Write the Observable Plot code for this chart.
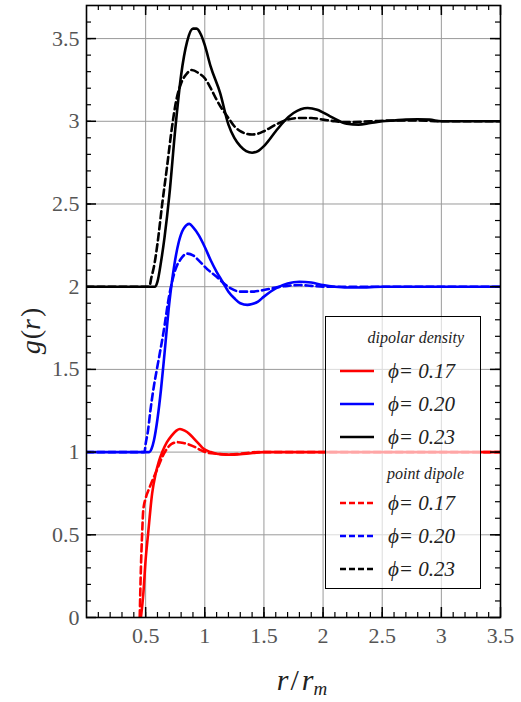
<!DOCTYPE html>
<html>
<head>
<meta charset="utf-8">
<script src="https://cdn.jsdelivr.net/npm/d3@7"></script>
<script src="https://cdn.jsdelivr.net/npm/@observablehq/plot@0.6"></script>
<style>
  body { margin: 0; background: #fff; }
  #wrap { position: relative; width: 521px; height: 702px; font-family: "Liberation Serif", "DejaVu Serif", "Times New Roman", serif; }
  .lab { position: absolute; font-style: italic; color: #222; white-space: nowrap; }
  #legend { position: absolute; left: 325px; top: 316px; width: 154px; height: 271px; border: 1px solid #000; background: rgba(255,255,255,0.65); }
  #legend .t { position: absolute; right: 16px; font-style: italic; font-size: 16px; color: #222; transform: translateY(-50%); }
  #legend .e { position: absolute; left: 62px; font-style: italic; font-size: 21px; color: #222; transform: translateY(-50%); }
  #legend svg { position: absolute; left: 14px; }
</style>
</head>
<body>
<div id="wrap"></div>
<script>
// ---- data ----
const phiLabels = ["0.17", "0.20", "0.23"];
const colors = ["#ff0000", "#0000ff", "#000000"];

// dipolar density (solid)
const xDD17 = [0.46,0.48,0.5,0.52,0.555,0.585,0.61,0.64,0.68,0.72,0.76,0.79,0.83,0.87,0.91,0.95,0.99,1.05,1.1,1.18,1.25,1.35,1.5,1.7,2.0,2.5,3.0,3.5];
const gDD17 = [0,0.14,0.35,0.5,0.75,0.87,0.94,1.0,1.06,1.1,1.13,1.14,1.13,1.11,1.08,1.05,1.02,1.0,0.99,0.985,0.985,0.99,1.0,1.0,1.0,1.0,1.0,1.0];
const xDD20 = [0,0.5,0.53,0.55,0.57,0.6,0.63,0.66,0.7,0.74,0.78,0.82,0.87,0.9,0.95,1.0,1.05,1.1,1.15,1.2,1.25,1.3,1.36,1.4,1.45,1.5,1.6,1.7,1.8,1.9,2.0,2.1,2.2,2.3,2.5,3.0,3.5];
const gDD20 = [1,1,1.0,1.02,1.07,1.2,1.38,1.6,1.9,2.12,2.27,2.35,2.38,2.36,2.31,2.24,2.16,2.09,2.03,1.97,1.93,1.9,1.89,1.895,1.91,1.94,1.99,2.02,2.03,2.025,2.01,2.0,1.995,1.995,2.0,2.0,2.0];
const xDD23 = [0,0.5,0.56,0.58,0.6,0.63,0.66,0.7,0.75,0.8,0.85,0.9,0.93,0.97,1.0,1.05,1.13,1.2,1.25,1.3,1.35,1.4,1.45,1.5,1.6,1.67,1.75,1.87,1.95,2.06,2.2,2.3,2.4,2.5,2.6,2.7,2.8,2.9,3.0,3.2,3.5];
const gDD23 = [2,2,2,2.0,2.03,2.15,2.3,2.55,2.95,3.28,3.48,3.56,3.56,3.52,3.46,3.33,3.17,2.98,2.9,2.85,2.82,2.81,2.82,2.85,2.94,3.0,3.05,3.08,3.07,3.03,2.985,2.98,2.99,3.0,3.005,3.01,3.012,3.01,3.0,3.0,3.0];

// point dipole (dashed)
const xPD17 = [0.45,0.46,0.47,0.48,0.5,0.53,0.57,0.6,0.64,0.68,0.72,0.77,0.82,0.87,0.92,0.97,1.03,1.1,1.2,1.3,1.45,2.0,2.5,3.0,3.5];
const gPD17 = [0,0.3,0.5,0.65,0.72,0.78,0.85,0.9,0.97,1.02,1.05,1.06,1.055,1.045,1.03,1.01,0.995,0.99,0.985,0.99,1.0,1.0,1.0,1.0,1.0];
const xPD20 = [0,0.49,0.5,0.52,0.54,0.57,0.6,0.65,0.7,0.75,0.8,0.85,0.9,0.96,1.03,1.1,1.16,1.22,1.3,1.4,1.5,1.6,1.7,1.8,1.9,2.0,2.5,3.0,3.5];
const gPD20 = [1,1.0,1.05,1.13,1.25,1.4,1.52,1.72,1.95,2.1,2.17,2.2,2.19,2.15,2.1,2.06,2.02,1.99,1.97,1.97,1.98,1.995,2.005,2.01,2.005,2.0,2.0,2.0,2.0];
const xPD23 = [0,0.53,0.55,0.57,0.6,0.64,0.68,0.72,0.76,0.8,0.85,0.89,0.95,1.0,1.05,1.1,1.15,1.2,1.25,1.3,1.35,1.4,1.45,1.5,1.6,1.7,1.8,1.9,2.0,2.1,2.2,2.4,2.6,2.8,3.0,3.5];
const gPD23 = [2,2.0,2.06,2.12,2.26,2.5,2.72,2.95,3.13,3.23,3.29,3.31,3.29,3.26,3.2,3.13,3.07,3.02,2.97,2.94,2.925,2.92,2.925,2.94,2.98,3.01,3.02,3.02,3.01,3.0,2.995,3.0,3.005,3.005,3.0,3.0];

const xMajor = [0.5,1,1.5,2,2.5,3,3.5];
const yMajor = [0,0.5,1,1.5,2,2.5,3,3.5];
const xMinor = d3.range(1, 35).map(i => i / 10);
const yMinor = d3.range(1, 37).map(i => i / 10);

// ---- build tables ----
const seriesDefs = [
  {kind: "solid", phi: phiLabels[0], x: xDD17, g: gDD17},
  {kind: "solid", phi: phiLabels[1], x: xDD20, g: gDD20},
  {kind: "solid", phi: phiLabels[2], x: xDD23, g: gDD23},
  {kind: "dashed", phi: phiLabels[0], x: xPD17, g: gPD17},
  {kind: "dashed", phi: phiLabels[1], x: xPD20, g: gPD20},
  {kind: "dashed", phi: phiLabels[2], x: xPD23, g: gPD23}
];
const rows = s => s.x.map((x, i) => ({r: x, g: s.g[i], phi: s.phi, key: s.kind + s.phi}));
const solidRows = seriesDefs.filter(s => s.kind === "solid").flatMap(rows);
const dashedRows = seriesDefs.filter(s => s.kind === "dashed").flatMap(rows);

const W = 521, H = 702, mT = 5, mB = 85, mL = 86, mR = 21;
const fh = H - mT - mB, fw = W - mL - mR;
const serif = "'Liberation Serif', 'DejaVu Serif', 'Times New Roman', serif";

const chart = Plot.plot({
  width: W, height: H,
  marginTop: mT, marginBottom: mB, marginLeft: mL, marginRight: mR,
  style: {fontFamily: serif, background: "transparent"},
  x: {domain: [0, 3.5]},
  y: {domain: [0, 3.7]},
  color: {domain: phiLabels, range: colors},
  marks: [
    Plot.gridX(xMajor, {stroke: "#9a9a9a", strokeOpacity: 1, strokeWidth: 1}),
    Plot.gridY(yMajor, {stroke: "#9a9a9a", strokeOpacity: 1, strokeWidth: 1}),
    Plot.line(solidRows, {x: "r", y: "g", z: "key", stroke: d => d.phi, strokeWidth: 2.6, curve: "monotone-x", clip: true}),
    Plot.line(dashedRows, {x: "r", y: "g", z: "key", stroke: d => d.phi, strokeWidth: 2.6, strokeDasharray: "7,4", curve: "monotone-x", clip: true}),
    Plot.tickX(xMajor, {x: d => d, insetTop: fh - 10, stroke: "black", strokeWidth: 1.5}),
    Plot.tickX(xMinor, {x: d => d, insetTop: fh - 5, stroke: "black", strokeWidth: 1.2}),
    Plot.tickX(xMajor, {x: d => d, insetBottom: fh - 10, stroke: "black", strokeWidth: 1.5}),
    Plot.tickX(xMinor, {x: d => d, insetBottom: fh - 5, stroke: "black", strokeWidth: 1.2}),
    Plot.tickY(yMajor, {y: d => d, insetRight: fw - 10, stroke: "black", strokeWidth: 1.5}),
    Plot.tickY(yMinor, {y: d => d, insetRight: fw - 5, stroke: "black", strokeWidth: 1.2}),
    Plot.tickY(yMajor, {y: d => d, insetLeft: fw - 10, stroke: "black", strokeWidth: 1.5}),
    Plot.tickY(yMinor, {y: d => d, insetLeft: fw - 5, stroke: "black", strokeWidth: 1.2}),
    Plot.frame({stroke: "black", strokeWidth: 1.6}),
    Plot.axisX(xMajor, {tickSize: 0, tickPadding: 10, fontSize: 22, color: "#555", label: null, tickFormat: d => String(d)}),
    Plot.axisY(yMajor, {tickSize: 0, tickPadding: 7, fontSize: 22, color: "#555", label: null, tickFormat: d => String(d)})
  ]
});

const wrap = document.getElementById("wrap");
wrap.appendChild(chart);

// axis titles
const yl = document.createElement("div");
yl.className = "lab";
yl.style.cssText = "left:31px;top:331px;font-size:28px;transform:translate(-50%,-50%) rotate(-90deg);";
yl.innerHTML = "g<span style='font-style:normal;padding-left:1px'>(</span>r<span style='font-style:normal;padding-left:2px'>)</span>";
wrap.appendChild(yl);

const xl = document.createElement("div");
xl.className = "lab";
xl.style.cssText = "left:302px;top:681px;font-size:30px;transform:translate(-50%,-50%);";
xl.innerHTML = "r<span style='font-style:normal;padding:0 3px 0 2px'>/</span>r<sub style='font-size:19px;vertical-align:-5px'>m</sub>";
wrap.appendChild(xl);

// legend
const legend = document.createElement("div");
legend.id = "legend";
wrap.appendChild(legend);
const addTitle = (txt, y) => {
  const t = document.createElement("div");
  t.className = "t"; t.style.top = y + "px"; t.textContent = txt;
  legend.appendChild(t);
};
const addEntry = (i, dashed, y) => {
  const s = document.createElementNS("http://www.w3.org/2000/svg", "svg");
  s.setAttribute("width", 34); s.setAttribute("height", 6);
  s.style.top = (y - 3) + "px";
  const l = document.createElementNS("http://www.w3.org/2000/svg", "line");
  l.setAttribute("x1", 0); l.setAttribute("x2", 34); l.setAttribute("y1", 3); l.setAttribute("y2", 3);
  l.setAttribute("stroke", colors[i]); l.setAttribute("stroke-width", 2.6);
  if (dashed) l.setAttribute("stroke-dasharray", "6,3");
  s.appendChild(l);
  legend.appendChild(s);
  const e = document.createElement("div");
  e.className = "e"; e.style.top = y + "px";
  e.textContent = "ϕ= " + phiLabels[i];
  legend.appendChild(e);
};
addTitle("dipolar density", 21);
phiLabels.forEach((p, i) => addEntry(i, false, 54 + 33 * i));
addTitle("point dipole", 157);
phiLabels.forEach((p, i) => addEntry(i, true, 186 + 33 * i));
</script>
</body>
</html>
